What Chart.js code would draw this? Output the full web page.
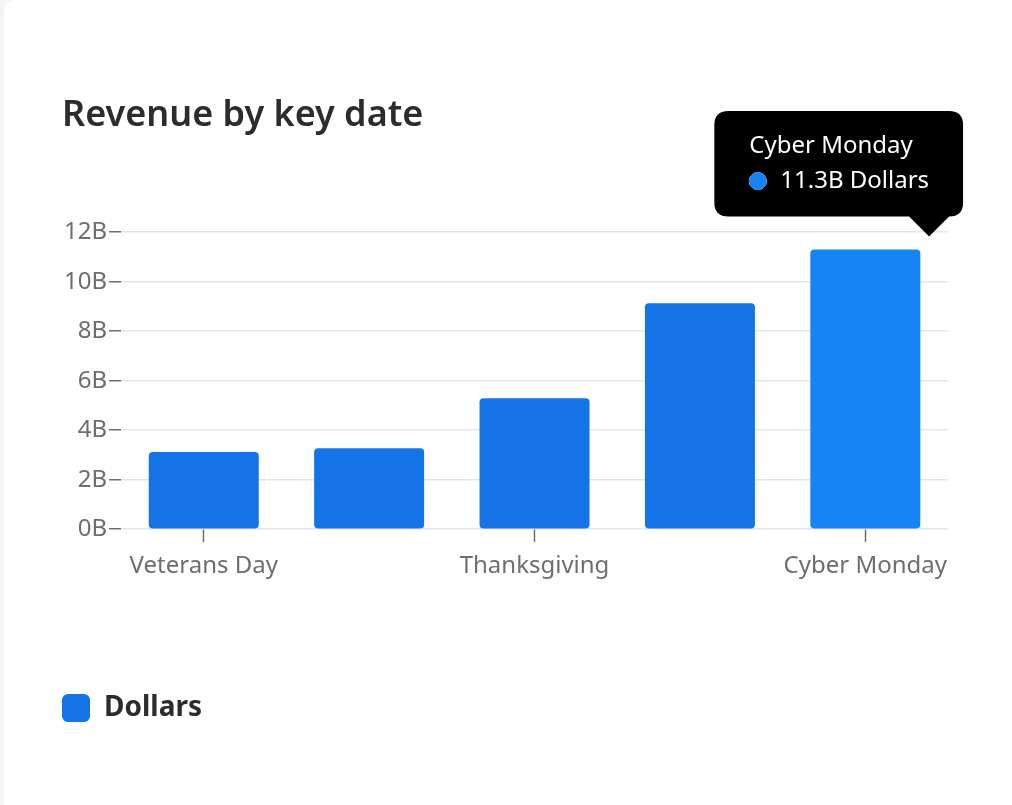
<!DOCTYPE html>
<html>
<head>
<meta charset="utf-8">
<script src="https://cdn.jsdelivr.net/npm/chart.js@4"></script>
<style>
    html, body { margin: 0; padding: 0; width: 1012px; height: 805px; overflow: hidden; background: #f4f4f4; }
    .card { position: absolute; left: 4px; top: 0; width: 1030px; height: 830px; background: #fff; border-radius: 10px; }
    #chartWrap { position: absolute; left: 0; top: 0; width: 1012px; height: 805px; }
</style>
</head>
<body>
<div class="card"></div>
<div id="chartWrap"><canvas id="revenueChart"></canvas></div>
<script>
// Chart data (values in billions of dollars)
const keyDates = ['Veterans Day', 'Singles Day', 'Thanksgiving', 'Black Friday', 'Cyber Monday'];
const dollars = [3.12, 3.27, 5.29, 9.13, 11.3];
const labeledDates = ['Veterans Day', 'Thanksgiving', 'Cyber Monday'];
const yTicks = [0, 2, 4, 6, 8, 10, 12];
const activeIndex = 4;

const barBlue = '#1473e6';
const hoverBlue = '#1684f5';
const tickGray = '#6e6e6e';

// Tooltip anchored a bit right of the bar's centre
Chart.Tooltip.positioners.barEdge = function(elements) {
    if (!elements.length) return false;
    const el = elements[0].element;
    return { x: el.x + el.width * 0.58, y: el.y };
};

document.addEventListener('DOMContentLoaded', function() {
    const ctx = document.getElementById('revenueChart').getContext('2d');

    const chart = new Chart(ctx, {
        type: 'bar',
        data: {
            labels: keyDates,
            datasets: [{
                label: 'Dollars',
                data: dollars,
                backgroundColor: barBlue,
                hoverBackgroundColor: hoverBlue,
                borderRadius: 4,
                borderSkipped: false,
                barPercentage: 0.665,
                categoryPercentage: 1
            }]
        },
        options: {
            responsive: true,
            maintainAspectRatio: false,
            animation: false,
            events: [],
            layout: {
                padding: { left: 62, right: 64, top: 0, bottom: 73 }
            },
            plugins: {
                title: {
                    display: true,
                    text: 'Revenue by key date',
                    align: 'start',
                    color: '#2c2c2c',
                    font: { family: 'Noto Sans', size: 36, weight: '600' },
                    padding: { top: 94, bottom: 95 }
                },
                legend: {
                    position: 'bottom',
                    align: 'start',
                    labels: {
                        boxWidth: 28,
                        boxHeight: 28,
                        useBorderRadius: true,
                        borderRadius: 6,
                        padding: 0,
                        color: '#2c2c2c',
                        font: { family: 'Noto Sans', size: 28, weight: 'bold' }
                    }
                },
                tooltip: {
                    position: 'barEdge',
                    xAlign: 'right',
                    yAlign: 'bottom',
                    backgroundColor: '#000',
                    titleColor: '#fff',
                    bodyColor: '#fff',
                    titleFont: { family: 'Noto Sans', size: 24, weight: 'normal' },
                    bodyFont: { family: 'Noto Sans', size: 24 },
                    titleMarginBottom: 6,
                    padding: { left: 35, right: 34, top: 21, bottom: 21 },
                    cornerRadius: 14,
                    caretSize: 20,
                    caretPadding: 13,
                    usePointStyle: true,
                    boxWidth: 17,
                    boxHeight: 17,
                    boxPadding: 12,
                    callbacks: {
                        label: function(context) {
                            return context.parsed.y.toFixed(1) + 'B Dollars';
                        },
                        labelColor: function() {
                            return { borderColor: hoverBlue, backgroundColor: hoverBlue, borderWidth: 0 };
                        },
                        labelPointStyle: function() {
                            return { pointStyle: 'circle', rotation: 0 };
                        }
                    }
                }
            },
            scales: {
                x: {
                    border: { display: false },
                    grid: {
                        offset: false,
                        drawOnChartArea: false,
                        drawTicks: true,
                        tickLength: 13,
                        tickWidth: 1.5,
                        tickColor: function(c) {
                            return labeledDates.includes(keyDates[c.index]) ? tickGray : 'rgba(0,0,0,0)';
                        }
                    },
                    ticks: {
                        autoSkip: false,
                        maxRotation: 0,
                        padding: 10,
                        color: tickGray,
                        font: { family: 'Noto Sans', size: 24 },
                        callback: function(value, index) {
                            const name = keyDates[index];
                            return labeledDates.includes(name) ? name : '';
                        }
                    },
                    afterFit: function(scale) {
                        scale.height += 103;
                    }
                },
                y: {
                    min: 0,
                    max: 12,
                    border: { display: false },
                    grid: {
                        color: '#e3e4f1',
                        lineWidth: 1.5,
                        tickLength: 12,
                        tickColor: tickGray,
                        tickWidth: 1.5
                    },
                    afterBuildTicks: function(scale) {
                        scale.ticks = yTicks.map(v => ({ value: v }));
                    },
                    ticks: {
                        padding: 2,
                        color: tickGray,
                        font: { family: 'Noto Sans', size: 24 },
                        callback: function(value) {
                            return value + 'B';
                        }
                    }
                }
            }
        }
    });

    // Show the hovered state on Cyber Monday
    const active = [{ datasetIndex: 0, index: activeIndex }];
    chart.setActiveElements(active);
    chart.tooltip.setActiveElements(active, { x: 0, y: 0 });
    chart.update();
});
</script>
</body>
</html>
